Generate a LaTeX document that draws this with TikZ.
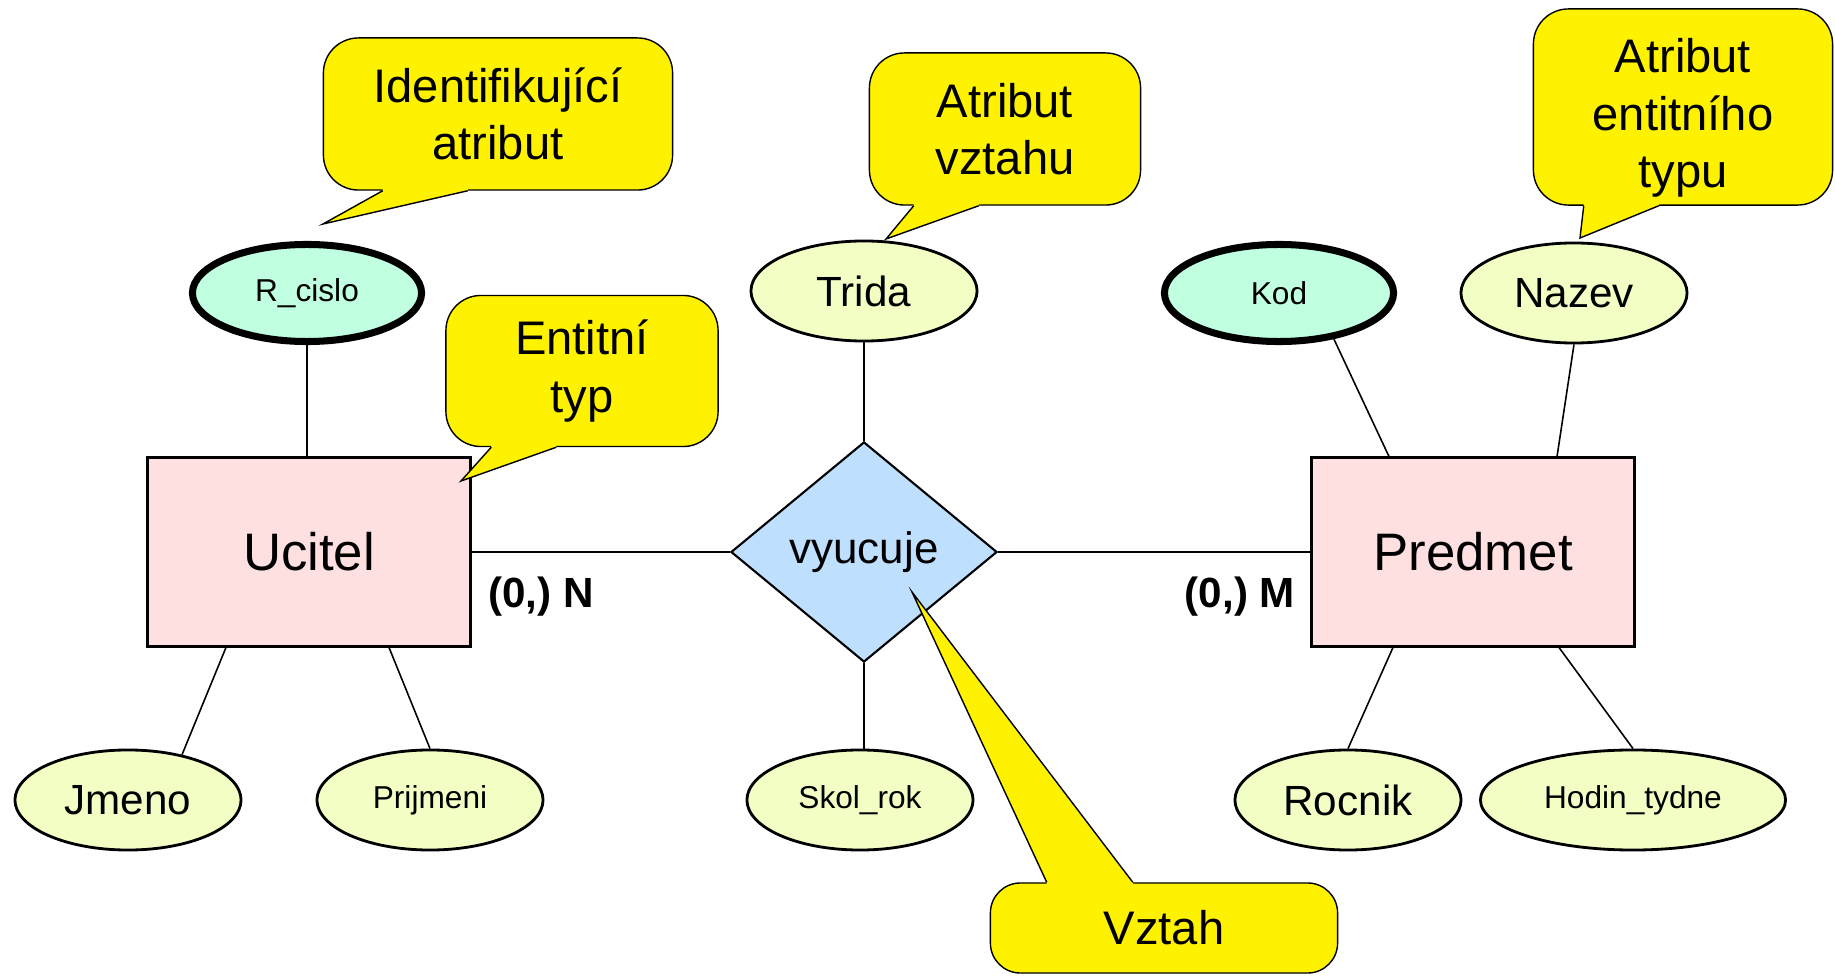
\documentclass[tikz,border=0pt]{standalone}
\usepackage{fontspec}
\setmainfont{Liberation Sans}
\usetikzlibrary{shapes.geometric}
\definecolor{entpink}{HTML}{FFE0E0}
\definecolor{relblue}{HTML}{BFDFFF}
\definecolor{keymint}{HTML}{C0FFE0}
\definecolor{attrlime}{HTML}{F2FFC4}
\newcommand{\calltail}[6]{%
  \fill[yellow] ([xshift=#3]#1.#2) -- (#5) -- ([xshift=#4]#1.#2)
    -- ([xshift=#4,yshift=#6]#1.#2) -- ([xshift=#3,yshift=#6]#1.#2) -- cycle;
  \draw[line width=0.4pt] ([xshift=#3]#1.#2) -- (#5) -- ([xshift=#4]#1.#2);}
\begin{document}
\begin{tikzpicture}[x=0.01cm,y=-0.01cm,
entity/.style={rectangle,draw,line width=0.85pt,fill=entpink,minimum width=3.23cm,minimum height=1.88cm,font=\fontsize{15}{18}\selectfont},
relship/.style={diamond,draw,line width=0.6pt,fill=relblue,inner sep=0pt,minimum width=2.66cm,minimum height=2.2cm,font=\fontsize{12.5}{15}\selectfont},
attr/.style={ellipse,draw,line width=0.8pt,fill=attrlime,inner sep=0pt,minimum width=2.26cm,minimum height=1cm,font=\fontsize{12}{14}\selectfont},
keyattr/.style={attr,fill=keymint,line width=2pt,minimum width=2.29cm,minimum height=0.97cm},
smalltext/.style={font=\fontsize{9}{11}\selectfont},
note/.style={rectangle,rounded corners=0.35cm,draw,line width=0.4pt,fill=yellow,align=center,font=\fontsize{13.4}{16.4}\selectfont},
cardlabel/.style={font=\bfseries\fontsize{12}{14}\selectfont},
relline/.style={line width=0.8pt},
attrline/.style={line width=0.45pt}]
\useasboundingbox (0,0) rectangle (1835,976);

\node[entity] (ucitel) at (309,552) {Ucitel};
\node[entity] (predmet) at (1473,552) {Predmet};
\node[relship] (vyucuje) at (864,552) {vyucuje};
\node[keyattr,smalltext] (rcislo) at (307,293) {R\_cislo};
\node[keyattr,smalltext] (kod) at (1279,293) {Kod};
\node[attr] (trida) at (864,291) {Trida};
\node[attr] (nazev) at (1574,293) {Nazev};
\node[attr] (jmeno) at (128,800) {Jmeno};
\node[attr,smalltext] (prijmeni) at (430,800) {Prijmeni};
\node[attr,smalltext] (skolrok) at (860,800) {Skol\_rok};
\node[attr] (rocnik) at (1348,800) {Rocnik};
\node[attr,smalltext,minimum width=3.05cm] (hodin) at (1633,800) {Hodin\_tydne};

\draw[relline] (ucitel) -- (vyucuje);
\draw[relline] (vyucuje) -- (predmet);
\draw[attrline] (rcislo) -- (rcislo |- ucitel.north);
\draw[attrline] (trida) -- (vyucuje);
\draw[attrline] (vyucuje.south) -- (vyucuje.south |- skolrok.north);
\draw[attrline] ([xshift=-0.83cm]ucitel.south) -- (jmeno.40);
\draw[attrline] ([xshift=0.8cm]ucitel.south) -- (prijmeni.north);
\draw[attrline] (kod.-40) -- ([xshift=-0.84cm]predmet.north);
\draw[attrline] (nazev.south) -- ([xshift=0.84cm]predmet.north);
\draw[attrline] ([xshift=-0.8cm]predmet.south) -- (rocnik.north);
\draw[attrline] ([xshift=0.86cm]predmet.south) -- (hodin.north);

\node[cardlabel] (cardn) at (541,597) {(0,) N};
\node[cardlabel] (cardm) at (1240,597) {(0,) M};

\node[note,minimum width=3.49cm,minimum height=1.52cm] (idattr) at (498,114) {Identifikující\\atribut};
\node[note,minimum width=2.71cm,minimum height=1.52cm] (relattr) at (1005,129) {Atribut\\vztahu};
\node[note,minimum width=2.99cm,minimum height=1.96cm,inner ysep=0pt] (entattr) at (1683,107) {\rule{0pt}{0.56cm}Atribut\\entitního\\typu};
\node[note,minimum width=2.72cm,minimum height=1.51cm] (enttype) at (582,371) {Entitní\\typ};
\node[note,minimum width=3.47cm,minimum height=0.9cm,rounded corners=0.3cm] (reltype) at (1164,928) {Vztah};
\calltail{idattr}{south west}{0.6cm}{1.45cm}{323,224}{0.03cm}
\calltail{relattr}{south west}{0.45cm}{1.1cm}{886,239}{0.03cm}
\calltail{entattr}{south west}{0.51cm}{1.26cm}{1580,238}{0.03cm}
\calltail{enttype}{south west}{0.46cm}{1.11cm}{461,481}{0.03cm}
\calltail{reltype}{north west}{0.57cm}{1.43cm}{912,592}{-0.03cm}
\end{tikzpicture}
\end{document}
